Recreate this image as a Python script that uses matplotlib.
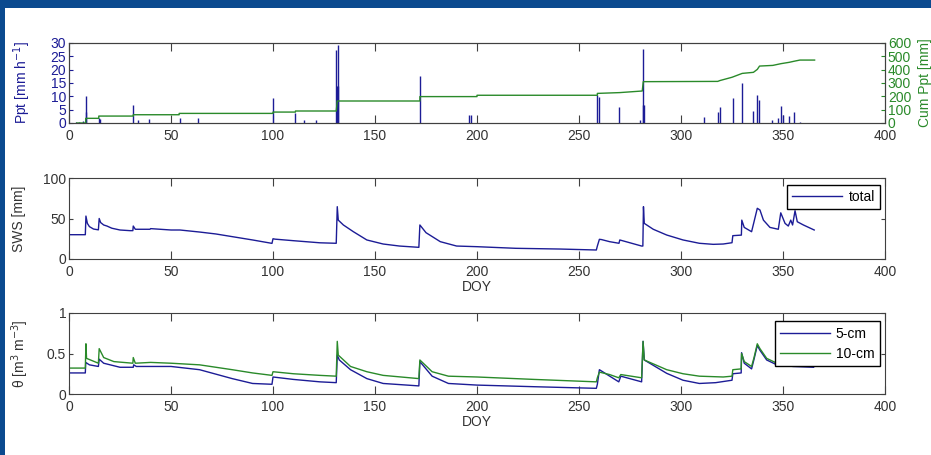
import numpy as np
import matplotlib
matplotlib.use("Agg")
import matplotlib.pyplot as plt
from matplotlib.patches import Rectangle

plt.rcParams["font.family"] = ["Liberation Sans", "DejaVu Sans"]
plt.rcParams["font.size"] = 10

# hourly rain spikes (DOY, mm/h)
ppt_pts = [(3.5, 0.5), (5, 0.4), (7, 0.6), (8.2, 10.2), (8.5, 4), (14.5, 2),
           (15, 1.5), (31.5, 6.6), (34, 1), (39, 1.5), (54.4, 2), (63, 2),
           (100, 9.2), (111, 3.6), (115, 1), (121, 1), (131, 27.3), (131.5, 14),
           (131.8, 14), (132, 29.2), (172, 17.6), (196, 3), (197, 3), (258.8, 10.5),
           (260, 9.9), (269.8, 6), (279.9, 1), (281.3, 6.7), (281.5, 27.7),
           (281.7, 6.7), (311.4, 2.4), (318, 4.2), (319, 5.9), (325.3, 9.2),
           (330, 14.9), (335.5, 4.6), (337.4, 10.5), (338.4, 8.6), (344.8, 1),
           (347.7, 2), (348.9, 6.4), (350.2, 3), (353, 2.6), (355.5, 4.2),
           (358.3, 0.5)]

# cumulative rain (DOY, mm)
cum_pts = [(3.8, 0), (8.2, 0), (8.2, 35), (14.6, 35), (14.6, 52), (31.5, 52),
           (31.5, 62), (54, 62), (54, 72), (100, 72), (100, 82), (111, 82),
           (111, 90), (131, 90), (131.5, 165), (172, 165), (172, 198), (200, 198),
           (200, 208), (259, 208), (259, 222), (270, 228), (281, 240), (281.5, 310),
           (318, 312), (319, 318), (325, 343), (330, 372), (335.5, 380), (337.4, 402),
           (338.5, 427), (345, 432), (349, 445), (353, 455), (356, 465),
           (358.3, 472), (365.5, 472)]

# soil water storage (DOY, mm)
sws_pts = [(0, 30), (8, 30), (8.3, 53), (9, 44), (10, 40), (12, 37), (14.4, 36),
           (14.8, 50), (15.5, 45), (17, 42), (18.6, 40.7), (21, 38), (25, 35.8),
           (29.9, 35), (31.3, 35), (31.5, 40.7), (32.5, 36.7), (39.7, 36.7),
           (40, 37.5), (50, 35.8), (54.4, 35.8), (64, 33.3), (72, 30.9), (80, 27.6),
           (90, 23.5), (99.5, 19.3), (100, 25), (101, 24.5), (110, 22.6), (123, 20),
           (131, 19.4), (131.5, 64.6), (132, 48), (134.5, 42), (139.4, 33.7),
           (146, 23.5), (154, 18.5), (162, 16), (171.5, 14.4), (172, 42), (175, 32.5),
           (182, 21.4), (190, 16), (200, 15.2), (219, 13.2), (240.7, 12.3),
           (258.5, 11.1), (259, 16), (260, 24.3), (261, 24), (265, 21.4),
           (269.6, 19.4), (270, 23.5), (275, 20), (280.7, 16), (281.3, 16),
           (281.6, 64.6), (282, 44), (286.4, 36.7), (293, 29.6), (301, 23.5),
           (309, 19.4), (315.8, 18.1), (320.7, 18.5), (325, 20.1), (325.4, 28.8),
           (329.6, 29.5), (329.8, 48), (331, 39), (334.6, 33.7), (335.8, 46),
           (337.4, 62.6), (338.7, 60.5), (340.4, 48), (343.6, 39), (347.7, 36.7),
           (348.9, 57), (351, 44), (352.6, 40.7), (353.8, 48), (354.7, 42),
           (355.9, 59.6), (357, 46), (360, 42), (365.3, 35.8)]

# volumetric water content (DOY, m3/m3)
theta5_pts = [(0, 0.26), (8, 0.26), (8.2, 0.39), (10, 0.36), (14.4, 0.34),
              (14.8, 0.43), (17, 0.38), (25, 0.33), (31.5, 0.33), (31.7, 0.36),
              (33, 0.34), (50, 0.34), (64, 0.30), (80, 0.19), (90, 0.13),
              (99.5, 0.12), (100, 0.21), (110, 0.18), (123, 0.15), (131, 0.14),
              (131.5, 0.48), (132.5, 0.42), (138, 0.30), (146, 0.19), (154, 0.13),
              (171.5, 0.10), (172, 0.40), (178, 0.22), (186, 0.13), (200, 0.11),
              (228, 0.09), (258.5, 0.07), (259, 0.12), (260, 0.30), (269.5, 0.15),
              (270.5, 0.22), (280.7, 0.15), (281.4, 0.65), (282, 0.42), (286, 0.36),
              (293, 0.255), (301, 0.17), (309, 0.13), (317, 0.14), (325, 0.17),
              (325.4, 0.25), (329.5, 0.26), (329.7, 0.51), (331, 0.38), (334.6, 0.31),
              (335.8, 0.43), (337.4, 0.60), (338.7, 0.54), (342, 0.42), (347, 0.36),
              (355, 0.34), (365, 0.33)]

theta10_pts = [(0, 0.32), (8, 0.32), (8.3, 0.62), (8.6, 0.44), (14.4, 0.38),
               (14.8, 0.56), (17, 0.45), (22, 0.40), (31.3, 0.38), (31.5, 0.45),
               (32.5, 0.38), (40, 0.39), (50, 0.38), (64, 0.36), (80, 0.30),
               (90, 0.26), (99.5, 0.23), (100, 0.275), (110, 0.25), (123, 0.23),
               (131, 0.22), (131.5, 0.65), (132, 0.48), (138, 0.34), (146, 0.275),
               (154, 0.23), (171.5, 0.19), (172, 0.42), (178, 0.275), (186, 0.22),
               (200, 0.21), (228, 0.18), (258.5, 0.15), (259, 0.20), (260, 0.27),
               (265, 0.24), (269.5, 0.20), (270.5, 0.24), (280.7, 0.20), (281.4, 0.65),
               (282, 0.42), (293, 0.30), (301, 0.25), (309, 0.22), (320.7, 0.21),
               (325, 0.22), (325.4, 0.30), (329.5, 0.31), (329.7, 0.50), (331, 0.40),
               (334.6, 0.34), (335.8, 0.45), (337.4, 0.62), (338.7, 0.56), (342, 0.44),
               (347, 0.38), (355, 0.36), (365, 0.35)]

BLUE = "#1c1c96"
GREEN = "#2a8a2a"
FRAME = "#404040"
TXT = "#333333"

fig = plt.figure(figsize=(9.31, 4.55), dpi=100, facecolor="#0b4a8f")
fig.patches.append(Rectangle((5 / 931, 0), 1, 447 / 455, transform=fig.transFigure,
                             facecolor="white", edgecolor="none", zorder=-10))

L, W = 69 / 931, 816 / 931
def make_ax(top_px, bot_px):
    return fig.add_axes([L, 1 - bot_px / 455, W, (bot_px - top_px) / 455])

def style(ax):
    for s in ax.spines.values():
        s.set_color(FRAME)
    ax.set_xlim(0, 400)
    ax.set_xticks(np.arange(0, 401, 50))
    ax.tick_params(axis="x", direction="in", length=6, top=True, colors=FRAME,
                   labelcolor=TXT, pad=4)
    ax.tick_params(axis="y", direction="in", length=3, right=True, colors=FRAME,
                   labelcolor=TXT, pad=2)

# top panel: rain
ax1 = make_ax(43, 123)
style(ax1)
px, pv = np.array(ppt_pts).T
ax1.vlines(px, 0, pv, color=BLUE, lw=1)
ax1.set_ylim(0, 30)
ax1.set_yticks(np.arange(0, 31, 5))
ax1.tick_params(axis="y", right=False, labelcolor=BLUE, colors=BLUE)
ax1.set_ylabel("Ppt [mm h$^{-1}$]", color=BLUE)
ax1.yaxis.set_label_coords(-0.044, 0.5)

ax1r = ax1.twinx()
cx, cv = np.array(cum_pts).T
ax1r.plot(cx, cv, color=GREEN, lw=1)
ax1r.set_ylim(0, 600)
ax1r.set_yticks(np.arange(0, 601, 100))
ax1r.tick_params(axis="y", direction="in", length=3, colors=GREEN, pad=2)
for s in ax1r.spines.values():
    s.set_color(FRAME)
ax1r.set_ylabel("Cum Ppt [mm]", color=GREEN)
ax1r.yaxis.set_label_coords(1.041, 0.5)

# middle panel: soil water storage
ax2 = make_ax(178, 259)
style(ax2)
sx, sv = np.array(sws_pts).T
ax2.plot(sx, sv, color=BLUE, lw=1, label="total")
ax2.set_ylim(0, 100)
ax2.set_yticks([0, 50, 100])
ax2.set_ylabel("SWS [mm]", color=TXT)
ax2.yaxis.set_label_coords(-0.053, 0.5)
ax2.set_xlabel("DOY", color=TXT, labelpad=1)
ax2.legend(loc="upper right", bbox_to_anchor=(0.994, 0.914), fancybox=False,
           edgecolor="black", framealpha=1, handlelength=3.6, borderpad=0.35,
           handletextpad=0.5, borderaxespad=0)

# bottom panel: water content
ax3 = make_ax(313, 394)
style(ax3)
t5x, t5v = np.array(theta5_pts).T
t10x, t10v = np.array(theta10_pts).T
ax3.plot(t5x, t5v, color=BLUE, lw=1, label="5-cm")
ax3.plot(t10x, t10v, color=GREEN, lw=1, label="10-cm")
ax3.set_ylim(0, 1)
ax3.set_yticks([0, 0.5, 1])
ax3.set_yticklabels(["0", "0.5", "1"])
ax3.set_ylabel("θ [m$^3$ m$^{-3}$]", color=TXT)
ax3.yaxis.set_label_coords(-0.047, 0.5)
ax3.set_xlabel("DOY", color=TXT, labelpad=1)
ax3.legend(loc="upper right", bbox_to_anchor=(0.994, 0.90), fancybox=False,
           edgecolor="black", framealpha=1, handlelength=3.6, borderpad=0.4,
           handletextpad=0.4, borderaxespad=0, labelspacing=0.45)

fig.savefig("out.png", dpi=100, facecolor=fig.get_facecolor())
